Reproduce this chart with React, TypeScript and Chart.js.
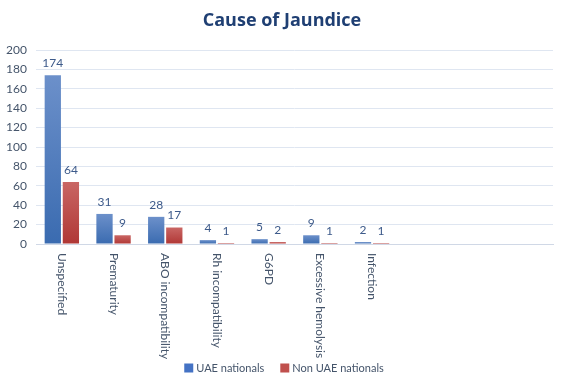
import React, { useEffect, useRef } from "react";
import { Chart, registerables } from "chart.js";

Chart.register(...registerables);

const categories = [
  "Unspecified",
  "Prematurity",
  "ABO incompatibility",
  "Rh incompatibility",
  "G6PD",
  "Excessive hemolysis",
  "Infection",
  "",
  "",
  "",
];
const uaeNationals = [174, 31, 28, 4, 5, 9, 2, null, null, null];
const nonUaeNationals = [64, 9, 17, 1, 2, 1, 1, null, null, null];
const yTicks = [0, 20, 40, 60, 80, 100, 120, 140, 160, 180, 200];
const seriesNames = ["UAE nationals", "Non UAE nationals"];
const legendColors = ["#4472c4", "#c0504d"];
const titleText = "Cause of Jaundice";

const FONT = "Lato, 'Open Sans', sans-serif";
const TEXT = "#44546a";
const LABEL = "#3d5a8a";

function gradientFor(top: string, bottom: string) {
  return (ctx: any) => {
    const chart = ctx.chart;
    const area = chart.chartArea;
    if (!area || ctx.type !== "data") return bottom;
    const v = ctx.raw;
    if (v == null) return bottom;
    const y = chart.scales.y;
    const y0 = y.getPixelForValue(0);
    const y1 = y.getPixelForValue(v);
    if (Math.abs(y0 - y1) < 1) return bottom;
    const g = chart.ctx.createLinearGradient(0, y1, 0, y0);
    g.addColorStop(0, top);
    g.addColorStop(1, bottom);
    return g;
  };
}

const xLabelPlugin = {
  id: "xLabelRot",
  afterDraw(chart: any) {
    const ctx = chart.ctx;
    const xs = chart.scales.x;
    const top = chart.chartArea.bottom + 9;
    ctx.save();
    ctx.fillStyle = TEXT;
    ctx.font = `12px ${FONT}`;
    ctx.textAlign = "left";
    ctx.textBaseline = "middle";
    categories.forEach((c, i) => {
      if (!c) return;
      const x = xs.getPixelForValue(i);
      ctx.save();
      ctx.translate(x, top);
      ctx.rotate(Math.PI / 2);
      ctx.fillText(c, 0, 0);
      ctx.restore();
    });
    ctx.restore();
  },
};

const titleLegendPlugin = {
  id: "titleLegend",
  afterDraw(chart: any) {
    const ctx = chart.ctx;
    const W = chart.width;
    ctx.save();
    ctx.fillStyle = "#1f3f73";
    ctx.font = `bold 18px 'Open Sans', sans-serif`;
    ctx.textAlign = "center";
    ctx.textBaseline = "middle";
    ctx.fillText(titleText, W / 2, 21);

    ctx.font = `11px ${FONT}`;
    ctx.textAlign = "left";
    const box = 9;
    const gapBoxText = 3;
    const gapItems = 16;
    const widths = seriesNames.map((s) => ctx.measureText(s).width);
    const total =
      widths.reduce((a, b) => a + b, 0) + seriesNames.length * (box + gapBoxText) + gapItems * (seriesNames.length - 1);
    let x = W / 2 + 2 - total / 2;
    const y = 368;
    seriesNames.forEach((s, i) => {
      ctx.fillStyle = legendColors[i];
      ctx.fillRect(x, y - box / 2, box, box);
      x += box + gapBoxText;
      ctx.fillStyle = TEXT;
      ctx.fillText(s, x, y);
      x += widths[i] + gapItems;
    });
    ctx.restore();
  },
};

const dataLabelPlugin = {
  id: "dataLabels",
  afterDatasetsDraw(chart: any) {
    const ctx = chart.ctx;
    ctx.save();
    ctx.fillStyle = LABEL;
    ctx.font = `12px ${FONT}`;
    ctx.textAlign = "center";
    ctx.textBaseline = "bottom";
    chart.data.datasets.forEach((ds: any, di: number) => {
      const meta = chart.getDatasetMeta(di);
      meta.data.forEach((el: any, i: number) => {
        const v = ds.data[i];
        if (v == null) return;
        ctx.fillText(String(v), el.x, el.y - 6);
      });
    });
    ctx.restore();
  },
};

export default function App() {
  const ref = useRef<HTMLCanvasElement | null>(null);
  useEffect(() => {
    document.body.style.margin = "0";
    const chart = new Chart(ref.current!, {
      type: "bar",
      data: {
        labels: categories,
        datasets: [
          {
            label: seriesNames[0],
            data: uaeNationals,
            backgroundColor: gradientFor("#6c90ca", "#3a6bb0"),
            categoryPercentage: 0.7,
            barPercentage: 0.9,
          },
          {
            label: seriesNames[1],
            data: nonUaeNationals,
            backgroundColor: gradientFor("#c96664", "#b03735"),
            categoryPercentage: 0.7,
            barPercentage: 0.9,
          },
        ],
      },
      options: {
        animation: false,
        responsive: false,
        maintainAspectRatio: false,
        layout: { padding: { left: 0, right: 11, top: 50, bottom: 33 } },
        plugins: {
          title: { display: false },
          legend: { display: false },
          tooltip: { enabled: false },
        },
        scales: {
          x: {
            grid: { display: false, drawTicks: false },
            border: { display: true, color: "#d0d8e6", width: 1 },
            ticks: { display: false },
            afterFit: (s: any) => {
              s.height = 107;
            },
          },
          y: {
            min: 0,
            max: 200,
            afterBuildTicks: (s: any) => {
              s.ticks = yTicks.map((v) => ({ value: v }));
            },
            grid: { color: "#dfe6f1", lineWidth: 1, drawTicks: false },
            border: { display: false },
            ticks: {
              color: TEXT,
              font: { family: FONT, size: 12 },
              padding: 9,
            },
            afterFit: (s: any) => {
              s.width = 36;
            },
          },
        },
      },
      plugins: [xLabelPlugin, dataLabelPlugin, titleLegendPlugin],
    });
    return () => chart.destroy();
  }, []);
  return (
    <div style={{ width: 564, height: 384, position: "absolute", left: 0, top: 0, background: "#fff" }}>
      <canvas ref={ref} width={564} height={384} style={{ width: 564, height: 384 }} />
    </div>
  );
}
